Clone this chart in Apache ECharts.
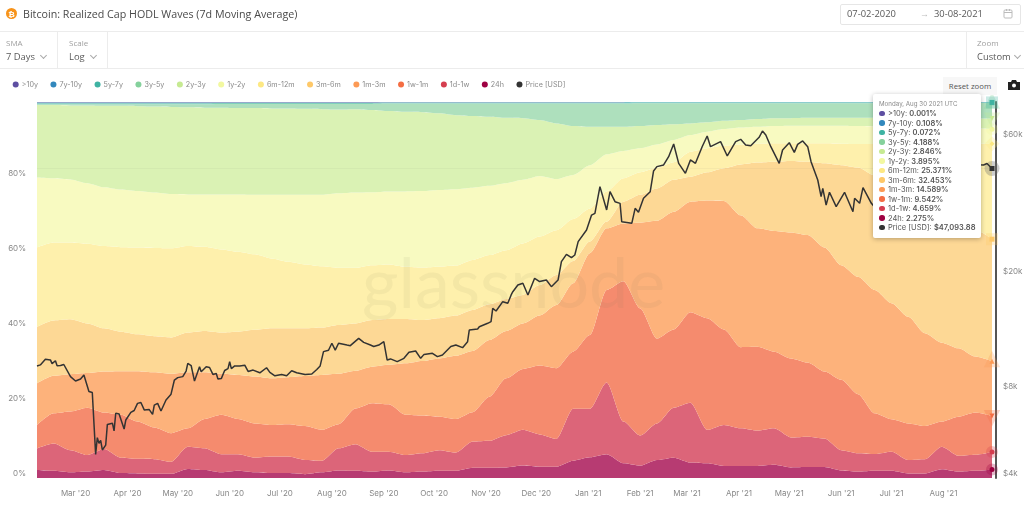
<!DOCTYPE html>
<html>
<head>
<meta charset="utf-8">
<script src="https://cdn.jsdelivr.net/npm/echarts@6/dist/echarts.min.js"></script>
<style>
  html, body { margin: 0; padding: 0; background: #fff; }
  body { width: 1024px; height: 506px; overflow: hidden; position: relative; font-family: "Open Sans", sans-serif; color: #555; }
  #main { position: absolute; left: 0; top: 0; width: 1024px; height: 506px; }
  .abs { position: absolute; white-space: nowrap; }
  .rule { position: absolute; background: #ececec; }
  .small { font-size: 8px; line-height: 12px; color: #a0a0a0; }
  .pick { font-size: 9.4px; line-height: 14px; color: #595959; }
  .chev { position: absolute; width: 4px; height: 4px; border-right: 1px solid #aaa; border-bottom: 1px solid #aaa; transform: rotate(45deg); }
</style>
</head>
<body>
<div id="main"></div>

<div class="rule" style="left:0;top:31px;width:1024px;height:1px"></div>
<div class="rule" style="left:0;top:68px;width:1024px;height:1px"></div>
<div class="rule" style="left:57px;top:32px;width:1px;height:36px"></div>
<div class="rule" style="left:107px;top:32px;width:1px;height:36px"></div>
<div class="rule" style="left:966px;top:32px;width:1px;height:36px"></div>

<div class="abs" style="left:6px;top:8px;width:11px;height:11px;border-radius:50%;background:#f7931a;color:#fff;font-size:8px;line-height:11px;text-align:center;font-weight:700">₿</div>
<div class="abs" style="left:23px;top:5px;font-size:10.7px;line-height:18px;color:#4a4a4a">Bitcoin: Realized Cap HODL Waves (7d Moving Average)</div>

<div class="abs small" style="left:6px;top:37px">SMA</div>
<div class="abs pick" style="left:6px;top:50px">7 Days</div>
<div class="chev" style="left:41px;top:53px"></div>
<div class="abs small" style="left:69px;top:37px">Scale</div>
<div class="abs pick" style="left:69px;top:50px">Log</div>
<div class="chev" style="left:91px;top:53px"></div>
<div class="abs small" style="left:977px;top:37px">Zoom</div>
<div class="abs pick" style="left:977px;top:50px">Custom</div>
<div class="chev" style="left:1015px;top:53px"></div>

<div class="abs" style="left:840px;top:4px;width:179px;height:19px;border:1px solid #e6e6e6;border-radius:2px"></div>
<div class="abs pick" style="left:847px;top:7px">07-02-2020</div>
<div class="abs" style="left:920px;top:7px;font-size:9px;color:#bbb">→</div>
<div class="abs pick" style="left:934px;top:7px">30-08-2021</div>
<svg class="abs" style="left:1003px;top:8px" width="11" height="11" viewBox="0 0 11 11"><rect x="1" y="2" width="8" height="8" rx="1" fill="none" stroke="#bbb"/><path d="M1 4.5H9M3.5 1V3M6.5 1V3" stroke="#bbb" fill="none"/></svg>

<div class="abs" style="left:943px;top:77px;width:54px;height:18px;background:#f7f7f7;font-size:7.8px;line-height:18px;text-align:center;color:#555">Reset zoom</div>
<svg class="abs" style="left:1008px;top:80px" width="12" height="10" viewBox="0 0 12 10"><path d="M0 2H3L4 0H8L9 2H12V10H0Z" fill="#222"/><circle cx="6" cy="5.6" r="2" fill="#fff"/></svg>

<script>
var startDate = '2020-02-07';
var h24 = [2.1,1.9,1.5,1.7,2.1,1.3,1.2,1.1,1.1,2.4,2.1,1.5,1.9,1.5,1.3,1.3,1.0,1.5,2.0,1.9,1.7,2.0,1.5,1.7,1.9,1.9,2.7,2.7,2.8,3.3,3.0,3.0,4.6,5.5,6.3,3.9,3.3,4.8,5.4,4.1,3.9,3.2,3.2,3.2,3.5,2.8,2.9,2.9,2.0,1.7,1.9,1.9,1.2,1.2,2.3,1.7,1.9,2.275];
var d1w = [5.8,7.3,5.9,4.4,5.6,4.1,3.9,3.9,3.2,5.9,5.8,4.8,4.4,3.9,4.4,4.4,3.8,3.1,5.9,7.1,5.3,5.0,4.6,4.9,5.5,4.9,7.0,7.2,8.6,9.5,8.6,7.4,13.8,12.9,19.1,11.1,8.0,9.7,13.3,15.9,8.9,10.9,10.0,9.4,9.7,8.0,8.1,7.6,5.4,4.9,4.5,5.1,3.6,3.8,6.0,4.2,4.3,4.659];
var w1m = [6.2,8.0,10.3,12.6,9.7,11.4,9.9,8.4,7.6,4.9,7.8,10.5,9.4,9.1,8.4,8.6,9.0,8.2,6.4,9.5,12.9,12.6,10.7,10.0,8.9,8.9,7.8,11.7,15.1,16.2,18.3,18.8,15.2,19.6,24.6,37.3,33.8,22.6,20.8,24.1,29.7,25.4,21.6,22.3,20.4,21.0,19.7,17.8,18.7,15.7,10.8,8.6,9.7,8.8,6.7,10.4,11.2,9.542];
var m3m = [11.1,10.0,9.9,9.2,10.9,11.6,13.4,14.7,15.8,14.9,12.4,10.9,11.7,12.5,12.4,12.5,13.3,14.6,13.4,10.0,9.7,10.5,13.7,14.5,15.5,16.8,16.3,15.1,12.6,12.1,13.3,16.8,18.2,21.8,16.4,15.4,22.8,31.3,31.3,29.4,31.3,34.2,35.1,31.5,32.1,33.5,33.9,33.0,30.5,31.2,32.8,30.9,28.4,24.7,21.0,18.2,14.9,14.589];
var m6m = [15.0,14.7,14.6,13.2,11.5,10.5,9.8,9.6,9.7,10.6,11.0,11.0,11.5,12.4,13.3,13.0,12.7,12.6,13.0,12.6,12.4,12.2,11.8,10.9,10.7,10.7,10.9,9.5,8.5,7.6,8.1,8.0,5.9,3.1,1.8,5.8,7.4,8.6,8.5,6.6,7.5,8.7,13.5,17.5,18.4,19.0,19.5,22.4,26.6,29.1,30.5,32.0,33.1,35.0,35.0,34.0,33.7,32.453];
var m12 = [21.1,20.7,20.4,21.2,21.9,22.5,23.1,23.5,23.7,23.0,22.4,22.1,21.3,20.1,18.6,17.7,17.0,16.3,15.2,14.8,14.6,14.5,13.9,14.0,13.7,13.3,13.3,13.1,13.0,13.7,12.9,11.9,11.2,8.8,8.0,6.2,6.0,5.5,4.7,6.7,6.4,6.0,5.3,5.0,4.9,4.7,4.9,5.3,5.7,6.2,8.3,10.3,12.8,15.3,17.8,20.4,22.9,25.371];
var y1y2 = [18.6,17.1,16.8,16.1,15.6,15.3,15.0,14.7,14.4,13.7,13.9,14.6,15.2,15.8,16.9,17.8,18.5,19.0,19.8,20.0,19.4,19.4,20.0,20.3,20.4,20.3,19.2,18.4,17.8,16.9,16.1,13.6,11.7,11.5,9.9,7.3,6.4,6.2,5.9,4.4,4.4,4.4,4.5,4.5,4.6,4.7,4.7,4.7,4.8,4.8,4.7,4.7,4.6,4.5,4.4,4.2,4.1,3.895];
var y2y3 = [19.3,19.5,19.7,20.7,21.7,22.3,22.6,22.9,23.2,23.2,23.1,23.1,23.0,23.1,23.0,23.0,22.9,22.8,22.3,22.2,21.9,21.4,21.2,21.0,20.4,19.7,19.1,18.4,17.4,16.4,14.9,14.8,13.0,10.2,7.3,6.4,5.9,5.2,4.2,3.1,2.5,2.2,2.0,2.1,2.1,2.0,2.1,2.1,2.1,2.2,2.3,2.3,2.4,2.4,2.5,2.6,2.6,2.846];
var y3y5 = [0.2,0.2,0.3,0.3,0.4,0.4,0.5,0.6,0.7,0.8,0.9,1.0,1.1,1.1,1.2,1.2,1.3,1.4,1.5,1.4,1.6,2.0,2.2,2.3,2.6,3.1,3.3,3.5,3.8,3.9,4.4,5.3,6.0,6.2,6.2,6.2,6.1,5.8,5.6,5.4,5.1,4.7,4.5,4.2,4.0,4.0,3.9,3.9,3.9,3.9,3.9,3.9,3.9,4.0,4.0,4.0,4.1,4.188];
var y5y7 = [0.3,0.3,0.3,0.3,0.3,0.3,0.3,0.3,0.3,0.3,0.3,0.25,0.25,0.25,0.25,0.25,0.25,0.25,0.25,0.25,0.25,0.2,0.2,0.2,0.2,0.2,0.2,0.2,0.2,0.2,0.2,0.2,0.2,0.2,0.2,0.2,0.15,0.15,0.15,0.15,0.15,0.15,0.15,0.15,0.15,0.15,0.15,0.15,0.15,0.15,0.15,0.15,0.15,0.15,0.15,0.15,0.15,0.072];
var y7y10 = [0.2,0.2,0.2,0.2,0.2,0.2,0.2,0.2,0.2,0.2,0.2,0.15,0.15,0.15,0.15,0.15,0.15,0.15,0.15,0.15,0.15,0.15,0.15,0.15,0.15,0.15,0.15,0.15,0.15,0.15,0.15,0.15,0.15,0.15,0.15,0.15,0.13,0.13,0.13,0.13,0.13,0.13,0.13,0.13,0.13,0.13,0.13,0.13,0.13,0.13,0.13,0.13,0.13,0.13,0.13,0.13,0.13,0.108];
var y10 = [0.1,0.1,0.1,0.1,0.1,0.1,0.1,0.1,0.1,0.1,0.1,0.1,0.1,0.1,0.1,0.1,0.1,0.1,0.1,0.1,0.1,0.05,0.05,0.05,0.05,0.05,0.05,0.05,0.05,0.05,0.05,0.05,0.05,0.05,0.05,0.05,0.02,0.02,0.02,0.02,0.02,0.02,0.02,0.02,0.02,0.02,0.02,0.02,0.02,0.02,0.02,0.02,0.02,0.02,0.02,0.02,0.02,0.001];

// price line, day offset from startDate and USD
var priceDays = [0,2,3,5,8,9,11,12,14,16,20,23,26,28,29,31,33,35,36,37,38,39,41,42,45,46,47,49,52,53,56,58,60,62,64,67,69,70,72,74,77,80,82,84,87,89,90,92,94,95,97,98,101,103,105,107,108,110,112,114,115,116,118,121,124,126,129,133,137,139,142,146,149,152,155,160,164,167,169,171,174,176,178,180,185,187,192,195,199,201,204,207,209,211,215,219,222,226,229,231,236,239,242,247,250,254,257,258,263,264,269,271,272,274,278,281,283,284,287,290,293,297,300,304,307,311,313,316,319,321,323,328,331,333,336,340,342,345,348,349,355,357,359,362,366,368,370,374,377,380,383,387,390,393,397,400,402,408,412,417,420,423,426,431,433,435,438,443,445,449,452,454,457,460,462,466,468,469,471,473,477,482,487,488,491,493,498,505,515,525,531,540,550,558,562,565,567,570];
var priceValues = [9770,9850,9750,10300,10250,9950,10180,9780,9800,9880,8970,8660,8800,9090,8970,7970,7900,4830,5515,5270,5400,5000,5200,6130,6190,5820,6700,6660,5910,6350,6750,6850,7250,7300,6880,6900,6640,7150,7250,6820,7450,7800,8730,8900,8970,9380,9970,9800,8660,8700,9710,9320,9700,9650,9130,9200,8800,8830,9420,9560,10100,9560,9770,9770,9830,9350,9450,9250,9630,9280,9030,9130,9030,9400,9250,9130,9160,9500,9770,10950,11070,11700,11080,11700,11540,11480,12170,11790,11540,11400,11540,11850,10240,10330,10110,10380,10890,11000,10380,10710,10800,10520,10660,11400,11540,11300,11850,13000,13110,13350,13720,13900,15460,15130,16300,16090,17200,17650,18620,18870,17200,19630,19130,19370,18370,19370,22420,23770,23150,23640,26300,28850,32500,32950,40750,33850,39150,36150,35680,30820,30430,34300,33220,37150,39150,46180,47800,48440,51740,57240,49080,45320,50400,49080,56030,61000,56030,58320,52030,58320,59400,56800,56490,60370,63500,61500,56030,49080,54560,57840,53560,57060,58640,56030,49740,42970,37640,40210,35200,38960,34750,38960,33380,37150,35680,40420,35680,32000,34000,33000,30000,41500,45500,49000,48500,48440,49000,47093.88];

var monthTicks = ['2020-03-01','2020-04-01','2020-05-01','2020-06-01','2020-07-01','2020-08-01','2020-09-01','2020-10-01','2020-11-01','2020-12-01','2021-01-01','2021-02-01','2021-03-01','2021-04-01','2021-05-01','2021-06-01','2021-07-01','2021-08-01'];
var monthLabels = ["Mar '20","Apr '20","May '20","Jun '20","Jul '20","Aug '20","Sep '20","Oct '20","Nov '20","Dec '20","Jan '21","Feb '21","Mar '21","Apr '21","May '21","Jun '21","Jul '21","Aug '21"];
var priceTicks = [4000, 8000, 20000, 60000];
var priceTickLabels = ['$4k', '$8k', '$20k', '$60k'];

var legendNames = ['>10y','7y-10y','5y-7y','3y-5y','2y-3y','1y-2y','6m-12m','3m-6m','1m-3m','1w-1m','1d-1w','24h','Price [USD]'];
var legendColors = ['#5e4fa2','#3288bd','#3fb3a3','#85d19c','#c6ea92','#f2f8a0','#fde883','#fec868','#fc9a55','#f46d43','#d53e4f','#9e0142','#333333'];
var fillColors = ['#7f78b8','#5cb3c0','#7fd0bb','#aee0bd','#daf2b4','#f8fac1','#fef0ac','#fdd895','#fdb27b','#f58b6e','#dc6579','#b73b72'];
var markerShapes = ['none','none','rect','triangle','triangle','circle','diamond','rect','triangle','triangle','circle','circle'];
var markerRotate = [0,0,0,0,180,0,0,0,0,180,0,0];

var bandValues = [y10, y7y10, y5y7, y3y5, y2y3, y1y2, m12, m6m, m3m, w1m, d1w, h24];

var dayMs = 86400000;
var startMs = new Date(startDate + 'T00:00:00Z').getTime();
var endMs = startMs + 570 * dayMs;
function toMs(s) { return new Date(s + 'T00:00:00Z').getTime(); }

// 24h sits at the bottom of the stack, >10y on top
var series = [];
for (var b = bandValues.length - 1; b >= 0; b--) {
  (function (idx) {
    var vals = bandValues[idx];
    series.push({
      name: legendNames[idx],
      type: 'line',
      stack: 'waves',
      smooth: 0.25,
      smoothMonotone: 'x',
      showAllSymbol: true,
      symbol: 'none',
      z: 2,
      lineStyle: { width: 0 },
      itemStyle: { color: legendColors[idx] },
      areaStyle: { color: fillColors[idx], opacity: 1 },
      data: vals.map(function (v, i) {
        var item = { value: [startMs + i * 10 * dayMs, v] };
        if (i === vals.length - 1) {
          item.symbol = markerShapes[idx];
          item.symbolSize = 5;
          item.symbolRotate = markerRotate[idx];
          item.itemStyle = { color: legendColors[idx], borderColor: echarts.color.modifyAlpha(legendColors[idx], 0.28), borderWidth: 7 };
        }
        return item;
      })
    });
  })(b);
}

series.push({
  name: 'Price [USD]',
  type: 'line',
  yAxisIndex: 1,
  showAllSymbol: true,
  symbol: 'none',
  z: 6,
  lineStyle: { width: 1.5, color: '#333' },
  itemStyle: { color: '#333' },
  markLine: {
    silent: true,
    symbol: 'none',
    label: { show: false },
    lineStyle: { type: 'solid', width: 1, color: 'rgba(90,90,90,0.05)' },
    data: [{ yAxis: priceValues[priceValues.length - 1] }]
  },
  data: priceDays.map(function (d, i) {
    var item = { value: [startMs + d * dayMs, priceValues[i]] };
    if (i === priceDays.length - 1) {
      item.symbol = 'rect';
      item.symbolSize = 5;
      item.itemStyle = { color: '#333' };
    }
    return item;
  })
});

// grey halo behind the price marker
series.push({
  type: 'scatter',
  yAxisIndex: 1,
  silent: true,
  z: 5,
  symbolSize: 15,
  itemStyle: { color: 'rgba(110,110,110,0.42)' },
  data: [[startMs + priceDays[priceDays.length - 1] * dayMs, priceValues[priceValues.length - 1]]]
});

function tipHtml() {
  var h = '<div style="font-size:6.2px;line-height:9px;color:#8a8a8a;margin-bottom:1px">Monday, Aug 30 2021 UTC</div>';
  legendNames.forEach(function (n, i) {
    var txt = i < 12 ? bandValues[i][bandValues[i].length - 1].toFixed(3) + '%' : '$47,093.88';
    h += '<div style="height:9.53px;line-height:9.53px;white-space:nowrap"><span style="display:inline-block;width:5.5px;height:5.5px;border-radius:50%;margin-right:3.5px;background:' + legendColors[i] + '"></span>' + n + ': <b style="font-weight:600">' + txt + '</b></div>';
  });
  return h;
}

var chart = echarts.init(document.getElementById('main'));
chart.setOption({
  animation: false,
  useUTC: true,
  textStyle: { fontFamily: 'Inter, sans-serif' },
  grid: { left: 37, right: 32, top: 102, bottom: 28, outerBoundsMode: 'none' },
  legend: {
    left: 7.7, top: 76,
    icon: 'circle',
    itemWidth: 6, itemHeight: 6, itemGap: 12.5,
    selectedMode: false,
    textStyle: { fontSize: 7.2, color: '#8a8a8a', padding: [0, 0, 0, -2], fontFamily: 'Inter, sans-serif' },
    data: legendNames
  },
  tooltip: {
    trigger: 'item',
    alwaysShowContent: true,
    showDelay: 0,
    transitionDuration: 0,
    position: [873, 94],
    padding: [5, 5, 5, 6],
    backgroundColor: '#fff',
    borderWidth: 0,
    extraCssText: 'box-shadow:0 1px 5px rgba(0,0,0,.28);border-radius:2px;width:97px;',
    textStyle: { fontSize: 7.5, color: '#555', fontFamily: 'Inter, sans-serif' },
    formatter: tipHtml
  },
  graphic: [{
    type: 'text', left: 362, top: 250, z: 4, silent: true,
    style: { text: 'glassnode', fontSize: 70, fontFamily: 'Lato, sans-serif', fill: 'rgba(120,120,90,0.07)' }
  }],
  xAxis: {
    type: 'time',
    min: startMs,
    max: endMs,
    minInterval: 28 * dayMs,
    maxInterval: 31 * dayMs,
    axisLine: { show: false },
    axisTick: { show: false },
    splitLine: { show: false },
    axisLabel: {
      margin: 12, fontSize: 8, color: '#888',
      hideOverlap: false,
      showMinLabel: false, showMaxLabel: false,
      formatter: function (v) {
        var k = monthTicks.map(toMs).indexOf(v);
        return k >= 0 ? monthLabels[k] : '';
      }
    }
  },
  yAxis: [{
    type: 'value',
    min: 0, max: 100, interval: 20,
    axisLine: { show: false },
    axisTick: { show: false },
    splitLine: { show: false },
    axisLabel: { showMaxLabel: false, margin: 11, fontSize: 8, color: '#888', formatter: '{value}%', verticalAlign: 'bottom' }
  }, {
    type: 'log',
    min: 4000, max: 80000,
    position: 'right',
    offset: 4,
    axisLine: { show: true, onZero: false, lineStyle: { color: '#555', width: 2 } },
    axisTick: { show: false },
    splitLine: { show: false },
    axisLabel: {
      margin: 7, fontSize: 8, color: '#888',
      verticalAlign: 'bottom',
      customValues: priceTicks,
      formatter: function (v) {
        var k = priceTicks.indexOf(Math.round(v));
        return k >= 0 ? priceTickLabels[k] : '';
      }
    }
  }],
  series: series
});
chart.dispatchAction({ type: 'showTip', seriesIndex: 0, dataIndex: 57 });
</script>
</body>
</html>
